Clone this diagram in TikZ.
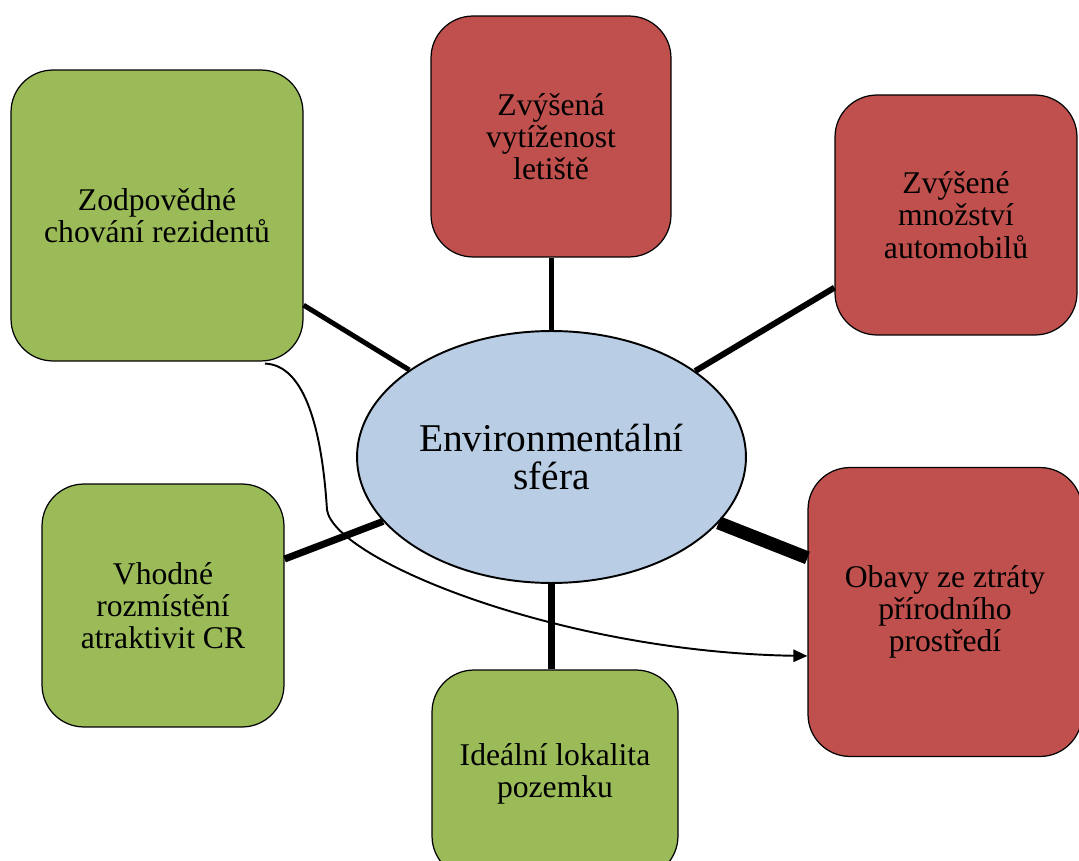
\documentclass[tikz,border=0pt]{standalone}
\usepackage{fontspec}
\setmainfont{Liberation Serif}
\usetikzlibrary{shapes.geometric,arrows.meta}
\definecolor{boxgreen}{HTML}{9BBB59}
\definecolor{boxred}{HTML}{C0504D}
\definecolor{ellblue}{HTML}{B9CDE5}
\begin{document}
\begin{tikzpicture}[x=0.02cm,y=-0.02cm,
  factor/.style={draw=black, line width=0.7pt, rounded corners=0.84cm, inner sep=0pt, align=center, font=\fontsize{18}{18.4}\selectfont},
  goodbox/.style={factor, fill=boxgreen},
  badbox/.style={factor, fill=boxred},
  centre/.style={ellipse, draw=black, line width=1.1pt, fill=ellblue, inner sep=0pt, align=center, font=\fontsize{22.4}{22}\selectfont},
  spoke/.style={draw=black, line width=#1},
  influence/.style={draw=black, line width=1.1pt, -{Triangle[length=8pt,width=7pt]}}
]
\useasboundingbox (0,0) rectangle (1079,861);
\clip (0,0) rectangle (1079,861);

\node[goodbox, minimum width=5.84cm, minimum height=5.82cm] (zodp) at (157,215.5) {Zodpovědné\\chování rezidentů};
\node[badbox, minimum width=4.8cm, minimum height=4.82cm] (letiste) at (551,136.5) {Zvýšená\\vytíženost\\letiště};
\node[badbox, minimum width=4.84cm, minimum height=4.8cm] (auto) at (956,215) {Zvýšené\\množství\\automobilů};
\node[badbox, minimum width=5.48cm, minimum height=5.78cm] (obavy) at (945,612) {Obavy ze ztráty\\přírodního\\prostředí};
\node[goodbox, minimum width=4.92cm, minimum height=4.16cm] (ideal) at (555,774) {Ideální lokalita\\pozemku};
\node[goodbox, minimum width=4.84cm, minimum height=4.86cm] (vhodne) at (163,605.5) {Vhodné\\rozmístění\\atraktivit CR};
\node[centre, minimum width=7.78cm, minimum height=5.04cm] (env) at (551.5,457) {Environmentální\\sféra};

\draw[spoke=2.3pt] (env.north) -- (env.north |- letiste.south);
\draw[spoke=3.4pt] (auto) -- (env);
\draw[spoke=2.8pt] (zodp) -- (env);
\draw[spoke=4pt] (vhodne) -- (env);
\draw[spoke=7.5pt] (obavy) -- (env);
\draw[spoke=4.5pt] (env.south) -- (env.south |- ideal.north);

\coordinate (bend) at (327,510);
\draw[influence] ([xshift=2.16cm,yshift=-0.04cm]zodp.south) .. controls (305,365) and (322,430) .. (bend) .. controls (335,560) and (560,652) .. ([yshift=-0.88cm]obavy.west);
\end{tikzpicture}
\end{document}
